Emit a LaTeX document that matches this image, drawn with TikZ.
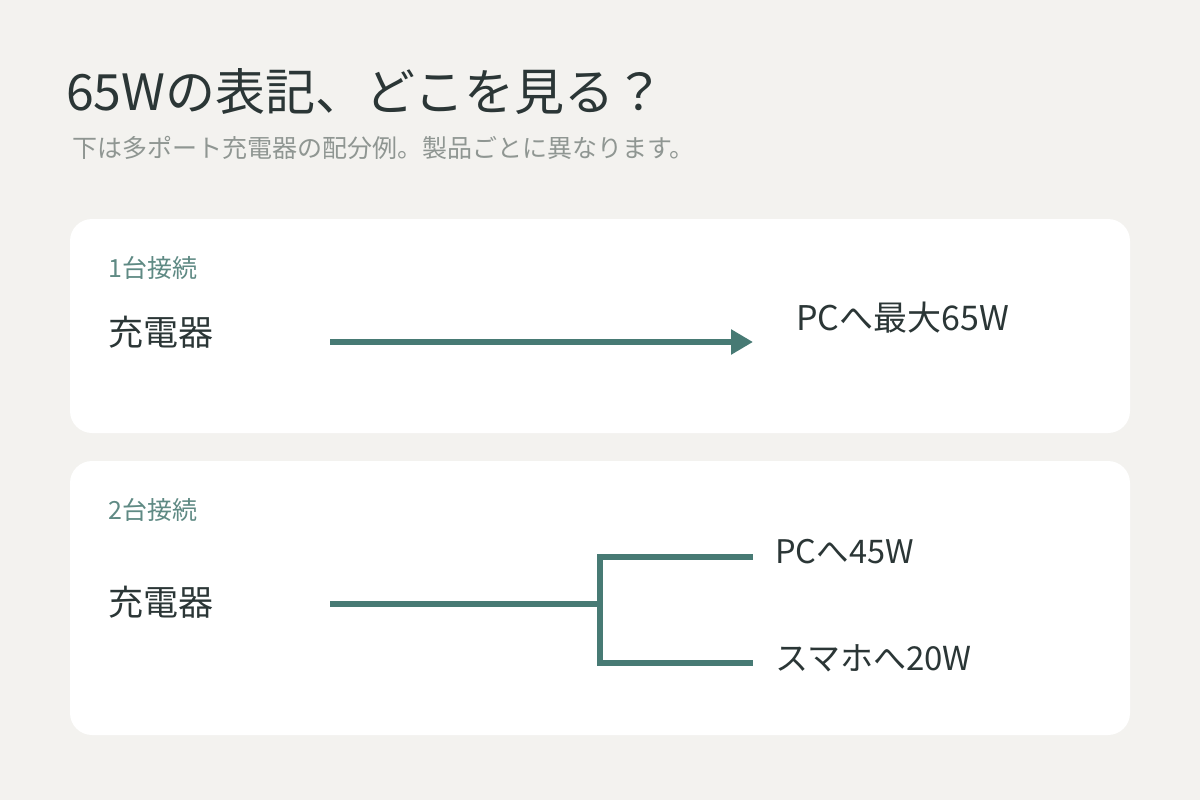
\documentclass[tikz,border=0pt]{standalone}
\usepackage{fontspec}
\setmainfont{Noto Sans CJK JP}
\usetikzlibrary{arrows.meta}
\definecolor{bg}{HTML}{F3F2EF}
\definecolor{teal}{HTML}{477A74}
\definecolor{ink}{HTML}{2B3636}
\definecolor{sub}{HTML}{8F9692}
\definecolor{lab}{HTML}{5F8A84}
\begin{document}
\begin{tikzpicture}[x=1pt,y=-1pt,
  card/.style={fill=white,rounded corners=22pt,draw=none},
  wire/.style={draw=teal,line width=6pt},
  txt/.style={anchor=west,inner sep=0pt,text=ink},
  lbl/.style={anchor=west,inner sep=0pt,text=lab,font=\fontsize{25}{28}\selectfont}]
\useasboundingbox (0,0) rectangle (1200,800);
\fill[bg] (0,0) rectangle (1200,800);
\node[txt,font=\fontsize{50}{54}\selectfont] (title) at (66,92) {65Wの表記、どこを見る？};
\node[txt,text=sub,font=\fontsize{25}{28}\selectfont] (subt) at (72,148) {下は多ポート充電器の配分例。製品ごとに異なります。};
\path[card] (70,219) rectangle (1130,433);
\path[card] (70,461) rectangle (1130,735);
\node[lbl] (l1) at (108,268) {1台接続};
\node[txt,font=\fontsize{35}{38}\selectfont] (c1) at (108,332) {充電器};
\node[txt,font=\fontsize{34}{38}\selectfont] (pc1) at (796,318) {PCへ最大65W};
\coordinate (a0) at (330,342);
\coordinate (a1) at (753,342);
\draw[wire,-{Triangle[length=22pt,width=24pt]}] (a0) -- (a1);
\node[lbl] (l2) at (108,510) {2台接続};
\node[txt,font=\fontsize{35}{38}\selectfont] (c2) at (108,602) {充電器};
\node[txt,font=\fontsize{32.5}{36}\selectfont] (pc2) at (775,552) {PCへ45W};
\node[txt,font=\fontsize{33}{36}\selectfont] (sp) at (775,658) {スマホへ20W};
\coordinate (b0) at (330,604);
\coordinate (b1) at (600,604);
\coordinate (bt) at (750,557);
\coordinate (bb) at (750,663);
\draw[wire] (b0) -- (b1);
\draw[wire,line cap=rect] (bt) -- (600,557) -- (600,663) -- (bb);
\end{tikzpicture}
\end{document}
